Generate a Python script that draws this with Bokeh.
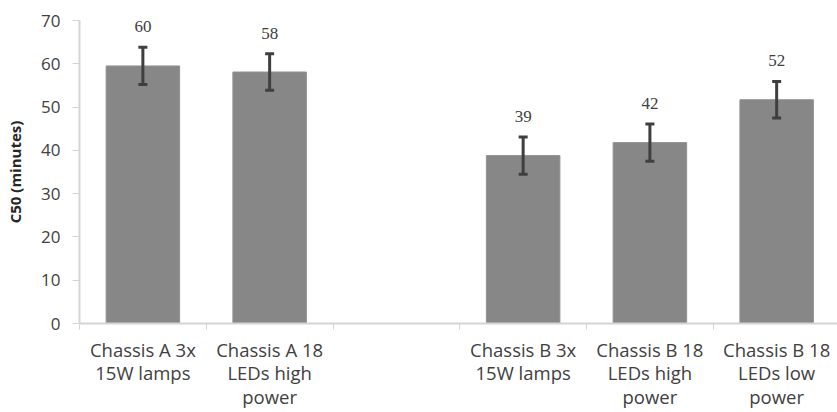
from bokeh.plotting import figure
from bokeh.models import (ColumnDataSource, Range1d, FixedTicker, Whisker,
                          TeeHead, LabelSet)
from bokeh.embed import file_html
from bokeh.resources import INLINE

# ---- data ----
categories = [
    "Chassis A 3x\n15W lamps",
    "Chassis A 18\nLEDs high\npower",
    "",
    "Chassis B 3x\n15W lamps",
    "Chassis B 18\nLEDs high\npower",
    "Chassis B 18\nLEDs low\npower",
]
values = [59.5, 58.1, None, 38.8, 41.8, 51.7]
errors = [4.3, 4.2, None, 4.3, 4.3, 4.2]
data_labels = ["60", "58", "", "39", "42", "52"]
y_ticks = [0, 10, 20, 30, 40, 50, 60, 70]

FONT = "Open Sans"
TEXT_COLOR = "#404040"
AXIS_COLOR = "#d4d4d4"

centers = [i + 0.5 for i in range(len(categories))]
boundaries = [i for i in range(len(categories) + 1)]

xs, tops, ups, los, labs = [], [], [], [], []
for c, v, e, l in zip(centers, values, errors, data_labels):
    if v is None:
        continue
    xs.append(c)
    tops.append(v)
    ups.append(v + e)
    los.append(v - e)
    labs.append(l)

src = ColumnDataSource(dict(x=xs, top=tops, upper=ups, lower=los, lab=labs))

p = figure(width=837, height=412, output_backend="svg", toolbar_location=None,
           x_range=Range1d(0, 5.98), y_range=Range1d(0, 70),
           min_border_left=79, min_border_top=20, min_border_right=0,
           min_border_bottom=0)
p.outline_line_color = None
p.grid.visible = False
p.background_fill_color = "white"
p.border_fill_color = "white"

p.vbar(x="x", top="top", width=0.58, source=src,
       fill_color="#878787", line_color="#939393", line_width=1)

whisk = Whisker(base="x", upper="upper", lower="lower", source=src,
                line_color="#3f3f3f", line_width=3, level="overlay",
                upper_head=TeeHead(size=9, line_width=3, line_color="#3f3f3f"),
                lower_head=TeeHead(size=9, line_width=3, line_color="#3f3f3f"))
p.add_layout(whisk)

labels = LabelSet(x="x", y="top", text="lab", source=src, y_offset=39,
                  text_align="center", text_baseline="middle",
                  text_font=FONT, text_font_size="17px", text_color=TEXT_COLOR)
p.add_layout(labels)

# x axis: labels at category centers, ticks at boundaries
xa = p.xaxis[0]
xa.ticker = FixedTicker(ticks=centers, minor_ticks=boundaries)
xa.major_label_overrides = {c: lab for c, lab in zip(centers, categories)}
xa.major_tick_out = 0
xa.major_tick_in = 0
xa.minor_tick_out = 6
xa.minor_tick_in = 0
xa.minor_tick_line_color = AXIS_COLOR
xa.minor_tick_line_width = 1
xa.axis_line_color = AXIS_COLOR
xa.axis_line_width = 2
xa.major_label_text_font = FONT
xa.major_label_text_font_size = "18.5px"
xa.major_label_text_color = TEXT_COLOR
xa.major_label_text_line_height = 0.95
xa.major_label_standoff = 7

ya = p.yaxis[0]
ya.ticker = FixedTicker(ticks=y_ticks)
ya.major_tick_out = 7
ya.major_tick_in = 0
ya.minor_tick_out = 0
ya.minor_tick_in = 0
ya.major_tick_line_color = AXIS_COLOR
ya.axis_line_color = AXIS_COLOR
ya.axis_line_width = 2
ya.major_label_text_font = FONT
ya.major_label_text_font_size = "17px"
ya.major_label_text_color = TEXT_COLOR
ya.major_label_standoff = 12
ya.axis_label = "C50 (minutes)"
ya.axis_label_text_font = FONT
ya.axis_label_text_font_size = "15px"
ya.axis_label_text_font_style = "bold"
ya.axis_label_text_color = "#262626"
ya.axis_label_standoff = 13

open("out.html", "w").write(file_html(p, INLINE))
